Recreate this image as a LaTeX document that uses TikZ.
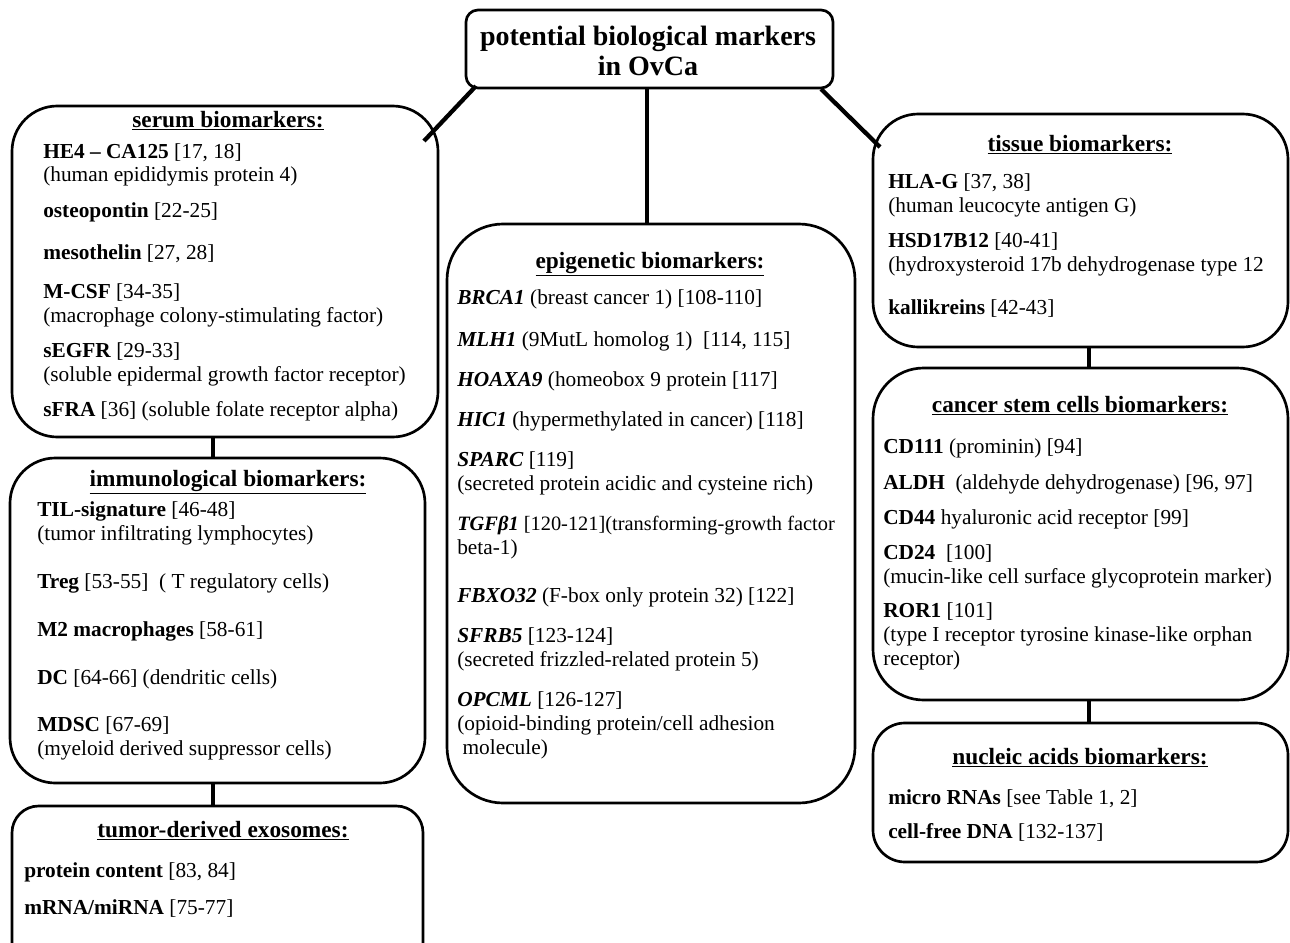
\documentclass[tikz,border=0pt]{standalone}
\usepackage{fontspec}
\setmainfont{Liberation Serif}
\usetikzlibrary{fit}
\tikzset{
  box/.style={draw, line width=2pt, inner sep=0pt, rounded corners=#1},
  link/.style={line width=3.2pt},
  txt/.style={anchor=base west, inner sep=0pt, font=\fontsize{16}{17}\selectfont},
  ttl/.style={anchor=base, inner sep=0pt, font=\bfseries\fontsize{17.5}{19}\selectfont},
  head/.style={anchor=base, inner sep=0pt, font=\bfseries\fontsize{21}{22}\selectfont}
}
\begin{document}
\begin{tikzpicture}[x=0.75pt, y=-0.75pt]
\useasboundingbox (0,0) rectangle (1290,943);
\clip (0,0) rectangle (1290,943);
% boxes
\node[box=9pt, fit={(466,10)(833,88)}] (top) {};
\node[box=34pt, fit={(12,106)(438,437)}] (serum) {};
\node[box=34pt, fit={(10,458)(425,783)}] (immuno) {};
\node[box=20pt, fit={(12,806)(423,975)}] (exo) {};
\node[box=42pt, fit={(447,224)(855,803)}] (epi) {};
\node[box=34pt, fit={(873,114)(1288,347)}] (tissue) {};
\node[box=38pt, fit={(873,368)(1288,700)}] (csc) {};
\node[box=24pt, fit={(873,723)(1288,862)}] (nucl) {};
% connectors
\coordinate (ca) at (476,86);
\coordinate (cb) at (424,141);
\coordinate (cc) at (821,89);
\coordinate (cd) at (880,147);
\draw[link] (ca) -- (cb);
\draw[link] (cc) -- (cd);
\draw[link] (top.south -| 647,0) -- (epi.north -| 647,0);
\draw[link] (serum.south -| 213,0) -- (immuno.north -| 213,0);
\draw[link] (immuno.south -| 213,0) -- (exo.north -| 213,0);
\draw[link] (tissue.south -| 1089,0) -- (csc.north -| 1089,0);
\draw[link] (csc.south -| 1089,0) -- (nucl.north -| 1089,0);
% heading
\node[head] (h1) at (648,45) {potential biological markers};
\node[head] (h2) at (648,75) {in OvCa};
% serum
\node[ttl] (st) at (228,127) {\underline{serum biomarkers:}};
\node[txt] (s1) at (43,158) {\textbf{HE4 – CA125} [17, 18]};
\node[txt] (s2) at (43,181) {(human epididymis protein 4)};
\node[txt] (s3) at (43,217) {\textbf{osteopontin} [22-25]};
\node[txt] (s4) at (43,259) {\textbf{mesothelin} [27, 28]};
\node[txt] (s5) at (43,298) {\textbf{M-CSF} [34-35]};
\node[txt] (s6) at (43,322) {(macrophage colony-stimulating factor)};
\node[txt] (s7) at (43,357) {\textbf{sEGFR} [29-33]};
\node[txt] (s8) at (43,381) {(soluble epidermal growth factor receptor)};
\node[txt] (s9) at (43,416) {\textbf{sFRA} [36] (soluble folate receptor alpha)};
% immunological
\node[ttl] (it) at (228,486) {\underline{immunological biomarkers:}};
\node[txt] (i1) at (37,516) {\textbf{TIL-signature} [46-48]};
\node[txt] (i2) at (37,540) {(tumor infiltrating lymphocytes)};
\node[txt] (i3) at (37,588) {\textbf{Treg} [53-55]\ \ ( T regulatory cells)};
\node[txt] (i4) at (37,636) {\textbf{M2 macrophages} [58-61]};
\node[txt] (i5) at (37,684) {\textbf{DC} [64-66] (dendritic cells)};
\node[txt] (i6) at (37,731) {\textbf{MDSC} [67-69]};
\node[txt] (i7) at (37,755) {(myeloid derived suppressor cells)};
% exosomes
\node[ttl] (et) at (223,837) {\underline{tumor-derived exosomes:}};
\node[txt] (e1) at (24,877) {\textbf{protein content} [83, 84]};
\node[txt] (e2) at (24,914) {\textbf{mRNA/miRNA} [75-77]};
% epigenetic
\node[ttl] (gt) at (650,268) {\underline{epigenetic biomarkers:}};
\node[txt] (g1) at (457,304) {\textbf{\textit{BRCA1}} (breast cancer 1) [108-110]};
\node[txt] (g2) at (457,346) {\textbf{\textit{MLH1}} (9MutL homolog 1)\ \ [114, 115]};
\node[txt] (g3) at (457,386) {\textbf{\textit{HOAXA9}} (homeobox 9 protein [117]};
\node[txt] (g4) at (457,426) {\textbf{\textit{HIC1}} (hypermethylated in cancer) [118]};
\node[txt] (g5) at (457,466) {\textbf{\textit{SPARC}} [119]};
\node[txt] (g6) at (457,490) {(secreted protein acidic and cysteine rich)};
\node[txt, font=\fontsize{15.3}{17}\selectfont] (g7) at (457,530) {\textbf{\textit{TGFβ1}} [120-121](transforming-growth factor};
\node[txt] (g8) at (457,554) {beta-1)};
\node[txt] (g9) at (457,602) {\textbf{\textit{FBXO32}} (F-box only protein 32) [122]};
\node[txt] (g10) at (457,642) {\textbf{\textit{SFRB5}} [123-124]};
\node[txt] (g11) at (457,666) {(secreted frizzled-related protein 5)};
\node[txt] (g12) at (457,706) {\textbf{\textit{OPCML}} [126-127]};
\node[txt] (g13) at (457,730) {(opioid-binding protein/cell adhesion};
\node[txt] (g14) at (457,754) {\ molecule)};
% tissue
\node[ttl] (tt) at (1080,151) {\underline{tissue biomarkers:}};
\node[txt] (t1) at (888,188) {\textbf{HLA-G} [37, 38]};
\node[txt] (t2) at (888,212) {(human leucocyte antigen G)};
\node[txt] (t3) at (888,247) {\textbf{HSD17B12} [40-41]};
\node[txt] (t4) at (888,271) {(hydroxysteroid 17b dehydrogenase type 12};
\node[txt] (t5) at (888,314) {\textbf{kallikreins} [42-43]};
% cancer stem cells
\node[ttl] (ct) at (1080,412) {\underline{cancer stem cells biomarkers:}};
\node[txt] (c1) at (883,453) {\textbf{CD111} (prominin) [94]};
\node[txt] (c2) at (883,489) {\textbf{ALDH}\ \ (aldehyde dehydrogenase) [96, 97]};
\node[txt] (c3) at (883,524) {\textbf{CD44} hyaluronic acid receptor [99]};
\node[txt] (c4) at (883,559) {\textbf{CD24}\ \ [100]};
\node[txt] (c5) at (883,583) {(mucin-like cell surface glycoprotein marker)};
\node[txt] (c6) at (883,617) {\textbf{ROR1} [101]};
\node[txt] (c7) at (883,641) {(type I receptor tyrosine kinase-like orphan};
\node[txt] (c8) at (883,665) {receptor)};
% nucleic acids
\node[ttl] (nt) at (1080,764) {\underline{nucleic acids biomarkers:}};
\node[txt] (n1) at (888,804) {\textbf{micro RNAs} [see Table 1, 2]};
\node[txt] (n2) at (888,838) {\textbf{cell-free DNA} [132-137]};
\end{tikzpicture}
\end{document}
